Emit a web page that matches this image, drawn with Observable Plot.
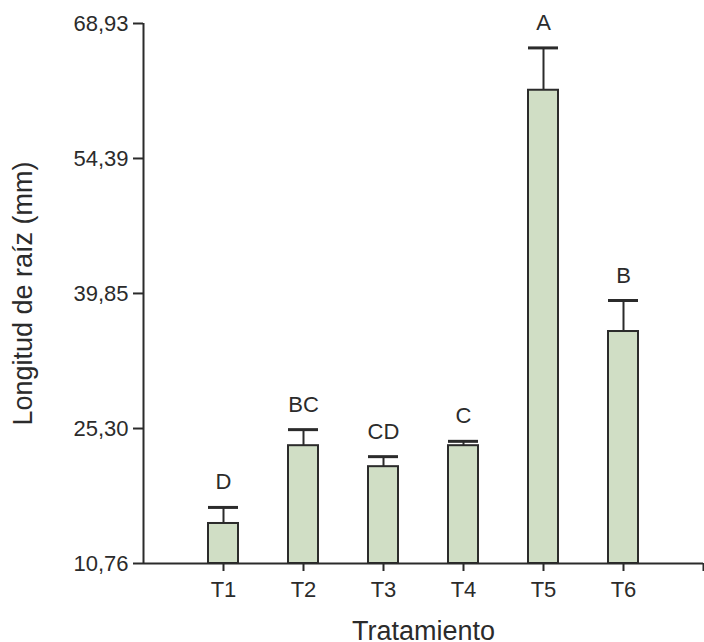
<!DOCTYPE html>
<html>
<head>
<meta charset="utf-8">
<script src="https://cdn.jsdelivr.net/npm/d3@7"></script>
<script src="https://cdn.jsdelivr.net/npm/@observablehq/plot@0.6"></script>
<style>
  html, body { margin: 0; padding: 0; background: #fff; }
  #chart svg { display: block; }
</style>
</head>
<body>
<div id="chart"></div>
<script>
const categories = ["T1", "T2", "T3", "T4", "T5", "T6"];
const means = [15.07, 23.45, 21.19, 23.45, 61.74, 35.75];
const errors = [1.73, 1.73, 1.08, 0.47, 4.56, 3.34];
const letters = ["D", "BC", "CD", "C", "A", "B"];
const yTicks = [10.76, 25.30, 39.85, 54.39, 68.93];
const yTickLabels = ["10,76", "25,30", "39,85", "54,39", "68,93"];
const yTitle = "Longitud de raíz (mm)";
const xTitle = "Tratamiento";

const data = categories.map((c, k) => ({
  pos: k + 1, cat: c, mean: means[k], err: errors[k], top: means[k] + errors[k], letter: letters[k]
}));
const half = 0.1875;
const base = yTicks[0];
const ink = "#2b2b2b";

const chart = Plot.plot({
  width: 704,
  height: 642,
  marginLeft: 143,
  marginRight: 1,
  marginTop: 23,
  marginBottom: 79,
  style: { fontFamily: "'Liberation Sans', Arial, sans-serif", color: ink, background: "#fff" },
  x: { domain: [0, 7] },
  y: { domain: [yTicks[0], yTicks[yTicks.length - 1]] },
  marks: [
    Plot.ruleX(data, { x: "pos", y1: "mean", y2: "top", stroke: ink, strokeWidth: 2 }),
    Plot.ruleY(data, { y: "top", x1: d => d.pos - half, x2: d => d.pos + half, stroke: ink, strokeWidth: 3 }),
    Plot.rectY(data, {
      x1: d => d.pos - half, x2: d => d.pos + half, y1: base, y2: "mean",
      fill: "#d0dec5", stroke: ink, strokeWidth: 2
    }),
    Plot.text(data, { x: "pos", y: "top", text: "letter", dy: -25, fontSize: 22, fill: ink }),
    Plot.axisY({
      ticks: yTicks, tickFormat: (d, k) => yTickLabels[k], tickSize: 10, tickPadding: 5,
      fontSize: 22, stroke: ink, strokeWidth: 2,
      label: yTitle, labelAnchor: "center", labelArrow: "none", labelOffset: 131
    }),
    Plot.axisX({
      ticks: [1, 2, 3, 4, 5, 6, 7], tickFormat: d => categories[d - 1] ?? "",
      tickSize: 8, tickPadding: 10, fontSize: 22, stroke: ink, strokeWidth: 2,
      label: xTitle, labelAnchor: "center", labelArrow: "none", labelOffset: 76
    }),
    Plot.ruleX([0], { stroke: ink, strokeWidth: 2 }),
    Plot.ruleY([base], { stroke: ink, strokeWidth: 2 })
  ]
});
chart.querySelectorAll("g[aria-label='y-axis label'] text, g[aria-label='x-axis label'] text").forEach(t => t.setAttribute("font-size", "27"));
document.getElementById("chart").appendChild(chart);
</script>
</body>
</html>
